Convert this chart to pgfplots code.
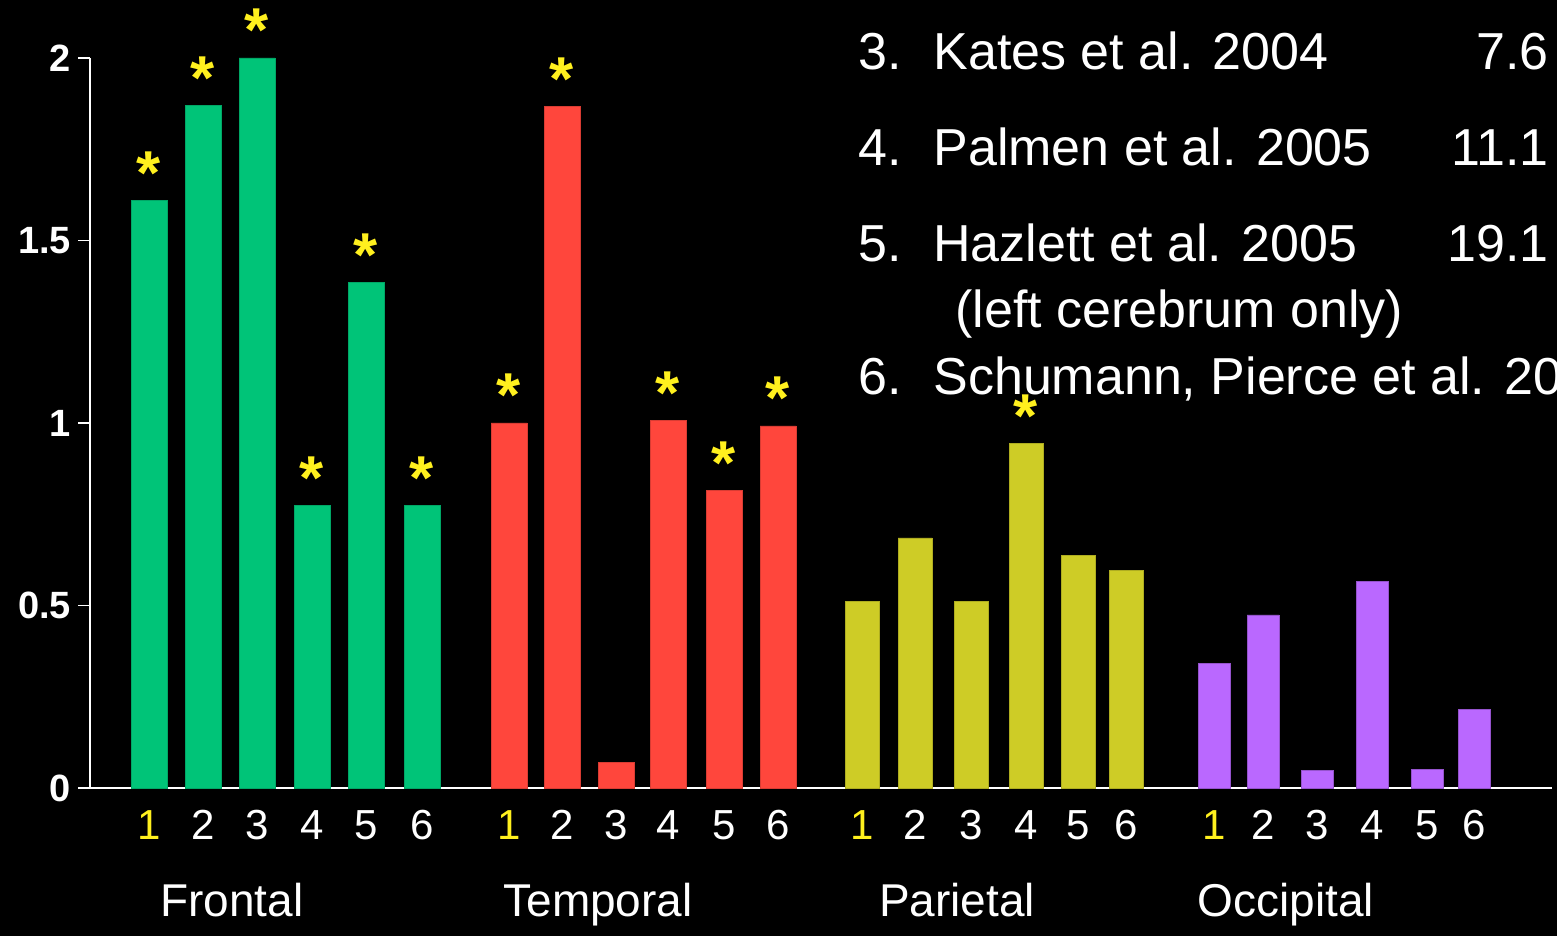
\documentclass[border=0pt]{standalone}
\usepackage{pgfplots}
\pgfplotsset{compat=1.18}
\usepackage{fontspec}
\setmainfont{Liberation Sans}
\definecolor{frontal}{RGB}{0,196,120}
\definecolor{temporal}{RGB}{255,70,60}
\definecolor{parietal}{RGB}{206,204,38}
\definecolor{occipital}{RGB}{186,104,255}
\definecolor{stary}{RGB}{255,240,30}

\begin{document}
\begin{tikzpicture}
\fill[black] (0,0) rectangle (778.5pt,468pt);
\useasboundingbox (0,0) rectangle (778.5pt,468pt);
\begin{axis}[
  at={(45pt,74pt)}, anchor=south west,
  scale only axis, width=731pt, height=365pt,
  xmin=90, xmax=1552, ymin=0, ymax=2,
  clip=false,
  axis x line=bottom, axis y line=left,
  axis line style={white, line width=1pt, -},
  tick align=outside, major tick length=6pt,
  xtick style={draw=none},
  ytick style={white, line width=0.8pt},
  ytick={0,0.5,1,1.5,2},
  yticklabels={0,0.5,1,1.5,2},
  yticklabel style={text=white, font=\bfseries\fontsize{19}{19}\selectfont},
  xtick={149,203,257,312,366,422, 509,562,616,668,724,778, 862,915,971,1026,1078,1126, 1214,1263,1317,1372,1427,1474},
  xticklabels={{\color{stary}1},2,3,4,5,6,{\color{stary}1},2,3,4,5,6,{\color{stary}1},2,3,4,5,6,{\color{stary}1},2,3,4,5,6},
  xticklabel style={text=white, font=\fontsize{21}{21}\selectfont, anchor=base, yshift=-20pt},
]
% Frontal
\addplot[ybar, bar shift=0pt, bar width=36, fill=frontal, draw=frontal!85!black] coordinates {
(149,1.61) (203,1.87) (257,2.00) (312,0.773) (366,1.386) (422,0.773)};
% Temporal
\addplot[ybar, bar shift=0pt, bar width=36, fill=temporal, draw=temporal!85!black] coordinates {
(509,1.00) (562,1.866) (616,0.071) (668,1.008) (724,0.816) (778,0.992)};
% Parietal
\addplot[ybar, bar shift=0pt, bar width=34, fill=parietal, draw=parietal!85!black] coordinates {
(862,0.51) (915,0.685) (971,0.51) (1026,0.945) (1078,0.638) (1126,0.597)};
% Occipital
\addplot[ybar, bar shift=0pt, bar width=32, fill=occipital, draw=occipital!80!black] coordinates {
(1214,0.342) (1263,0.474) (1317,0.047) (1372,0.567) (1427,0.050) (1474,0.216)};
% significance stars
\addplot[draw=none, mark=none, nodes near coords={*},
  every node near coord/.style={text=stary, font=\bfseries\fontsize{31}{31}\selectfont, anchor=base, inner sep=0pt, yshift=3pt}]
coordinates {
(149,1.61) (203,1.87) (257,2.00) (312,0.773) (366,1.386) (422,0.773)
(509,1.00) (562,1.866) (668,1.008) (724,0.816) (778,0.992)
(1026,0.945)};
\end{axis}
\begin{scope}[shift={(0,468pt)}, x=0.5pt, y=-0.5pt, every node/.style={text=white, inner sep=0pt}]
\node[anchor=base, font=\fontsize{23}{23}\selectfont] at (232,917) {Frontal};
\node[anchor=base, font=\fontsize{23}{23}\selectfont] at (598,917) {Temporal};
\node[anchor=base, font=\fontsize{23}{23}\selectfont] at (957,917) {Parietal};
\node[anchor=base, font=\fontsize{23}{23}\selectfont] at (1286,917) {Occipital};
\begin{scope}[every node/.append style={font=\fontsize{26}{26}\selectfont}]
\node[anchor=base west] at (858,70) {3.};
\node[anchor=base west] at (933,70) {Kates et al. 2004};
\node[anchor=base east] at (1549,70) {7.6};
\node[anchor=base west] at (858,166) {4.};
\node[anchor=base west] at (933,166) {Palmen et al. 2005};
\node[anchor=base east] at (1549,166) {11.1};
\node[anchor=base west] at (858,262) {5.};
\node[anchor=base west] at (933,262) {Hazlett et al. 2005};
\node[anchor=base east] at (1549,262) {19.1};
\node[anchor=base west] at (955,328) {(left cerebrum only)};
\node[anchor=base west] at (858,395) {6.};
\node[anchor=base west] at (933,395) {Schumann, Pierce et al. 20};
\end{scope}
\end{scope}
\end{tikzpicture}
\end{document}
